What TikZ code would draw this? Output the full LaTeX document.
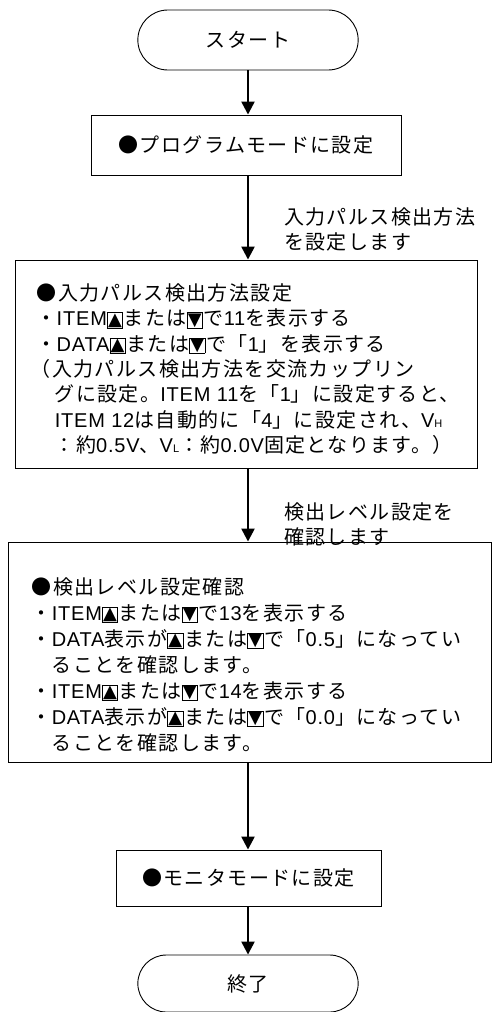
\documentclass[tikz,border=0pt]{standalone}
\usepackage{fontspec}
\setmainfont{Noto Sans CJK JP}[LetterSpace=7]
\newfontfamily\keyfont{DejaVu Sans}
\newfontfamily\latin{Liberation Sans}[LetterSpace=4]
\usetikzlibrary{arrows.meta}
\usetikzlibrary{positioning}
\usetikzlibrary{shapes.misc}

\newcommand{\upkey}{\raisebox{0.8pt}{\fboxsep=0.5pt\fboxrule=0.6pt\fbox{\keyfont\fontsize{18pt}{18pt}\selectfont ▲}}\hspace{1pt}}
\newcommand{\downkey}{\raisebox{0.8pt}{\fboxsep=0.5pt\fboxrule=0.6pt\fbox{\keyfont\fontsize{18pt}{18pt}\selectfont ▼}}\hspace{1pt}}
\newcommand{\lat}[1]{{\latin #1}}
\newcommand{\subH}{{\latin\fontsize{11pt}{11pt}\selectfont H}}
\newcommand{\subL}{{\latin\fontsize{11pt}{11pt}\selectfont L}}

\begin{document}
\begin{tikzpicture}[x=1pt,y=1pt,
    term/.style={draw,rounded rectangle,line width=0.9pt,minimum width=227pt,
      minimum height=60pt,font=\fontsize{20pt}{24pt}\selectfont},
    stepbox/.style={draw,rectangle,line width=0.9pt,
      font=\fontsize{20pt}{24pt}\selectfont},
    boxtext/.style={align=left,inner sep=0pt,anchor=north west},
    note/.style={align=left,inner sep=0pt,anchor=north west,
      font=\fontsize{20pt}{25pt}\selectfont},
    flow/.style={line width=2.4pt,-{Triangle[width=13pt,length=13pt]}}]

  \useasboundingbox (0,0) rectangle (492,-1012);

  \node [term] (start) at (248,-40) {スタート};
  \node [stepbox,minimum width=310pt,minimum height=60pt] (prog) at (246,-145) {●プログラムモードに設定};

  \node [stepbox,minimum width=462pt,minimum height=208pt] (pulse) at (246,-364) {};
  \node [boxtext,font=\fontsize{20pt}{25.3pt}\selectfont] (pulsetext) at ([xshift=22pt,yshift=-24pt]pulse.north west) {●入力パルス検出方法設定\\
    ・\lat{ITEM}\upkey または\downkey で\lat{11}を表示する\\
    ・\lat{DATA}\upkey または\downkey で「\lat{1}」を表示する\\
    \hspace*{-6pt}（入力パルス検出方法を交流カップリン\\
    \hspace*{0.9em}グに設定。\lat{ITEM 11}を「\lat{1}」に設定すると、\\
    \hspace*{0.9em}\lat{ITEM 12}は自動的に「\lat{4}」に設定され、\lat{V}\subH\\
    \hspace*{0.9em}：約\lat{0.5V}、\lat{V}\subL：約\lat{0.0V}固定となります。）};

  \node [stepbox,minimum width=483pt,minimum height=220pt] (level) at (249.5,-652) {};
  \node [boxtext,font=\fontsize{20pt}{26pt}\selectfont] (leveltext) at ([xshift=24pt,yshift=-36pt]level.north west) {●検出レベル設定確認\\
    ・\lat{ITEM}\upkey または\downkey で\lat{13}を表示する\\
    ・\lat{DATA}表示が\upkey または\downkey で「\lat{0.5}」になってい\\
    \hspace*{1em}ることを確認します。\\
    ・\lat{ITEM}\upkey または\downkey で\lat{14}を表示する\\
    ・\lat{DATA}表示が\upkey または\downkey で「\lat{0.0}」になってい\\
    \hspace*{1em}ることを確認します。};

  \node [stepbox,minimum width=265pt,minimum height=56pt] (monitor) at (248.5,-878) {●モニタモードに設定};
  \node [term,minimum height=57pt] (stop) at (248,-983.5) {終了};

  \node [note] (pulsenote) at (284,-207) {入力パルス検出方法\\を設定します};
  \node [note] (levelnote) at (284,-502) {検出レベル設定を\\確認します};

  \draw [flow] (start.south) -- (start.south |- prog.north);
  \draw [flow] (start.south |- prog.south) -- (start.south |- pulse.north);
  \draw [flow] (start.south |- pulse.south) -- (start.south |- level.north);
  \draw [flow] (start.south |- level.south) -- (start.south |- monitor.north);
  \draw [flow] (start.south |- monitor.south) -- (stop.north);

\end{tikzpicture}
\end{document}
